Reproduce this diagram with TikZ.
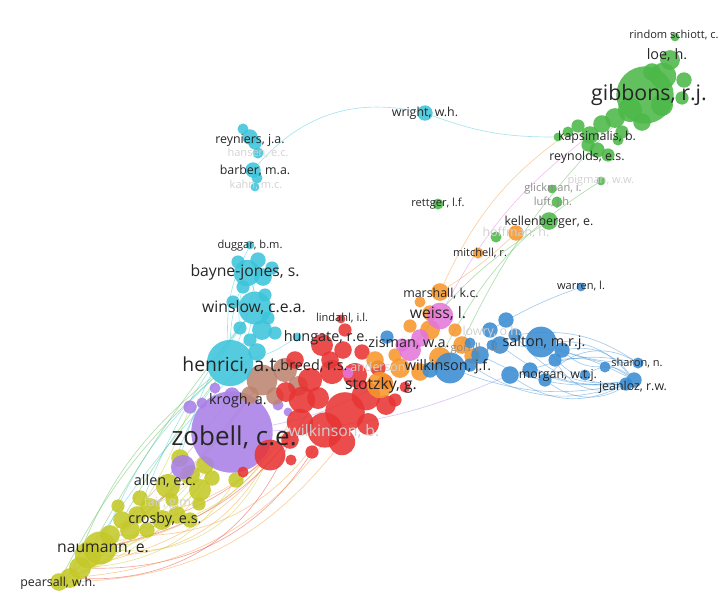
\documentclass[tikz,border=0pt]{standalone}
\usepackage{fontspec}
\setmainfont{Open Sans}
\usepackage{tikz}
\usetikzlibrary{backgrounds}

\definecolor{vgreen}{RGB}{76,184,72}
\definecolor{vcyan}{RGB}{60,196,218}
\definecolor{vred}{RGB}{232,52,52}
\definecolor{vpurple}{RGB}{170,128,230}
\definecolor{vyellow}{RGB}{196,200,40}
\definecolor{vorange}{RGB}{246,150,44}
\definecolor{vblue}{RGB}{58,140,210}
\definecolor{vpink}{RGB}{228,118,218}
\definecolor{vbrown}{RGB}{188,132,112}

\newcommand{\szxl}{\fontsize{19.5}{20}\selectfont}
\newcommand{\szl}{\fontsize{16}{16}\selectfont}
\newcommand{\szh}{\fontsize{14.5}{15}\selectfont}
\newcommand{\szm}{\fontsize{11.8}{12}\selectfont}
\newcommand{\szn}{\fontsize{10.8}{11}\selectfont}
\newcommand{\szs}{\fontsize{9.3}{10}\selectfont}
\newcommand{\szxs}{\fontsize{8.3}{9}\selectfont}

\begin{document}
\begin{tikzpicture}[x=0.75pt,y=-0.75pt]
  \tikzstyle{bub}=[circle,draw=none,inner sep=0pt,fill opacity=0.88]
  \tikzstyle{lab}=[inner sep=0pt,text=black!85]
  \tikzstyle{mid}=[inner sep=0pt,text=black!45]
  \tikzstyle{dim}=[inner sep=0pt,text=black!18]
  \tikzstyle{link}=[line width=0.5pt,draw opacity=0.45]
  \useasboundingbox (0,0) rectangle (726,604);

  % yellow
  \foreach \n/\x/\y/\r in {1/236/480/7, 2/205/465/8, 3/180/458/8, 4/190/475/9, 5/168/486/11,
      6/200/490/10, 7/199/504/6, 8/150/508/9, 9/137/515/8, 10/130/530/9, 11/162/520/9,
      12/177/515/8, 13/122/520/8, 14/100/548/15, 15/88/555/12, 16/80/568/10, 17/70/578/9,
      18/59/582/8, 19/147/530/7, 20/110/535/9, 21/212/478/7, 22/140/498/7, 23/190/520/7,
      24/118/506/6, 25/172/500/6}
    \node[bub,fill=vyellow,minimum size=1.65pt*\r] (y\n) at (\x,\y) {};

  % purple
  \foreach \n/\x/\y/\r in {1/232/432/37, 2/183/467/11, 3/190/407/6, 4/202/403/5, 5/278/405/5,
      6/232/395/7, 7/215/388/5, 8/288/412/4}
    \node[bub,fill=vpurple,minimum size=1.65pt*\r] (p\n) at (\x,\y) {};

  % brown
  \foreach \n/\x/\y/\r in {1/262/380/14, 2/285/370/11, 3/250/395/8, 4/298/386/9, 5/275/396/8}
    \node[bub,fill=vbrown,minimum size=1.65pt*\r] (b\n) at (\x,\y) {};

  % red
  \foreach \n/\x/\y/\r in {1/345/412/18, 2/325/430/16, 3/366/396/13, 4/302/400/12, 5/355/375/11,
      6/332/372/11, 7/385/382/7, 8/310/380/11, 9/295/360/8, 10/270/455/14, 11/291/460/5,
      12/368/424/10, 13/386/405/9, 14/322/345/10, 15/343/350/8, 16/341/319/4, 17/405/387/5,
      18/342/442/12, 19/300/422/12, 20/318/398/10, 21/362/352/7, 22/243/472/5, 23/330/360/8,
      24/395/400/6, 25/286/392/9, 26/290/440/8, 27/378/368/7, 28/345/330/6, 29/312/452/6}
    \node[bub,fill=vred,minimum size=1.65pt*\r] (r\n) at (\x,\y) {};

  % cyan
  \foreach \n/\x/\y/\r in {1/425/113/7, 2/243/129/5, 3/250/137/7, 4/255/143/6, 5/258/153/5,
      6/253/170/7, 7/257/178/5, 8/255/187/4, 9/250/245/4, 10/258/260/7, 11/247/273/12,
      12/263/277/8, 13/272/268/6, 14/243/287/6, 15/255/308/15, 16/233/302/6, 17/268/318/6,
      18/262/330/9, 19/240/328/6, 20/275/333/6, 21/297/337/4, 22/230/363/21, 23/257/352/8,
      24/250/340/6, 25/238/262/6, 26/265/295/6}
    \node[bub,fill=vcyan,minimum size=1.65pt*\r] (c\n) at (\x,\y) {};

  % orange
  \foreach \n/\x/\y/\r in {1/440/292/8, 2/478/253/5, 3/516/233/7, 4/380/385/12, 5/440/358/10,
      6/420/372/8, 7/400/368/9, 8/375/360/8, 9/430/330/9, 10/462/345/8, 11/472/356/7,
      12/410/326/6, 13/395/355/6, 14/420/302/5, 15/430/313/7, 16/455/330/6}
    \node[bub,fill=vorange,minimum size=1.65pt*\r] (o\n) at (\x,\y) {};

  % pink
  \foreach \n/\x/\y/\r in {1/440/316/12, 2/410/350/10, 3/420/338/8, 4/348/373/5, 5/402/345/6}
    \node[bub,fill=vpink,minimum size=1.65pt*\r] (k\n) at (\x,\y) {};

  % blue
  \foreach \n/\x/\y/\r in {1/541/342/14, 2/506/320/7, 3/490/330/7, 4/500/345/8, 5/480/355/8,
      6/450/368/14, 7/510/375/8, 8/530/370/7, 9/555/360/6, 10/562/350/7, 11/605/367/5,
      12/626/384/6, 13/634/380/7, 14/638/363/5, 15/545/380/6, 16/585/375/5, 17/581/287/4,
      18/387/337/6, 19/470/365/6, 20/492/345/5, 21/515/335/6, 22/470/343/5, 23/430/370/7}
    \node[bub,fill=vblue,minimum size=1.65pt*\r] (u\n) at (\x,\y) {};

  % green
  \foreach \n/\x/\y/\r in {1/645/95/26, 2/670/60/9, 3/675/37/4, 4/663/76/12, 5/684/80/7,
      6/630/110/11, 7/615/118/9, 8/602/124/8, 9/590/135/8, 10/578/126/6, 11/568/132/5,
      12/558/137/4, 13/597/150/7, 14/608/155/6, 15/588/145/6, 16/601/181/4, 17/552/189/4,
      18/557/202/5, 19/549/221/8, 20/496/237/5, 21/438/204/5, 22/642/122/8, 23/662/105/10,
      24/622/132/6, 25/682/98/6, 26/652/72/8, 27/618/140/5}
    \node[bub,fill=vgreen,minimum size=1.65pt*\r] (g\n) at (\x,\y) {};

  % links
  \begin{scope}[on background layer]
    \foreach \a/\b/\c/\t in {y18/p1/vyellow/-15, y18/c22/vgreen/10, y14/p1/vyellow/-20,
        y14/c22/vcyan/12, y14/r4/vorange/-25, y15/r10/vorange/-30, y16/r2/vred/-30,
        y17/r1/vorange/-25, y16/p1/vyellow/-10, y13/r19/vorange/-20, y13/p1/vbrown/-10,
        y10/b1/vbrown/-5, y20/p6/vbrown/-5, y8/p1/vyellow/-10, y11/r10/vred/-10,
        y9/c15/vcyan/8, y5/c22/vcyan/10, y3/c15/vcyan/10, y17/c22/vgreen/15, y18/r18/vorange/-25,
        y15/p1/vyellow/-25, y16/r19/vorange/-20, y17/r26/vred/-35, y14/r10/vyellow/-35,
        y15/b1/vbrown/-10, y18/b3/vbrown/-8, y16/c15/vgreen/5, y20/r2/vorange/-28,
        y17/p1/vyellow/-18, y14/r20/vred/-22, y15/c23/vcyan/6, y13/c22/vgreen/4,
        y10/r10/vyellow/-20, y9/p3/vyellow/-5, y18/y5/vyellow/-20, y16/y1/vyellow/-25,
        c6/c1/vcyan/30, c1/g12/vcyan/-10, c22/c11/vcyan/10, c22/c15/vcyan/-10, c22/c9/vcyan/15,
        c18/c11/vcyan/-8, c22/c21/vcyan/-10, c22/c10/vcyan/-6, c19/c14/vcyan/10,
        g10/o1/vorange/-15, g19/k2/vgreen/-10, g16/o5/vgreen/-15, g1/u6/vgreen/-10,
        g9/k1/vpink/-12, o3/o1/vorange/5, u17/u3/vblue/-5, u7/p1/vpurple/10, o4/p1/vpurple/8,
        u1/u13/vblue/25, u1/u12/vblue/-25, u9/u13/vblue/20, u7/u12/vblue/-30, u8/u14/vblue/15,
        u4/u12/vblue/-20, u16/u13/vblue/35, u10/u11/vblue/-20, u6/u12/vblue/-15,
        u15/u13/vblue/-35, u21/u14/vblue/20, u5/u13/vblue/-18, u1/u14/vblue/-10,
        u9/u12/vblue/-40, u10/u13/vblue/30, u8/u12/vblue/-12, u4/u13/vblue/12,
        u19/u12/vblue/-25, u21/u13/vblue/-30, u15/u14/vblue/40}
      \draw[link,draw=\c] (\a) to[bend left=\t] (\b);
  \end{scope}

  % labels
  \node[lab,font=\szxl] (l-zobell) at (234,437) {zobell, c.e.};
  \node[lab,font=\szl] (l-gibbons) at (649,95) {gibbons, r.j.};
  \node[lab,font=\szh] (l-henrici) at (232,365) {henrici, a.t.};
  \node[lab,font=\szm] (l-bayne) at (245,272) {bayne-jones, s.};
  \node[lab,font=\szm] (l-winslow) at (254,308) {winslow, c.e.a.};
  \node[lab,font=\szm] (l-weiss) at (438,314) {weiss, l.};
  \node[lab,font=\szm] (l-stotzky) at (381,385) {stotzky, g.};
  \node[lab,font=\szm] (l-naumann) at (103,549) {naumann, e.};
  \node[lab,font=\szn] (l-salton) at (544,343) {salton, m.r.j.};
  \node[lab,font=\szn] (l-allen) at (165,481) {allen, e.c.};
  \node[lab,font=\szn] (l-crosby) at (165,520) {crosby, e.s.};
  \node[lab,font=\szn] (l-zisman) at (409,343) {zisman, w.a.};
  \node[lab,font=\szn] (l-wilkjf) at (448,367) {wilkinson, j.f.};
  \node[lab,font=\szn] (l-loe) at (667,55) {loe, h.};
  \node[lab,font=\szn] (l-hungate) at (326,338) {hungate, r.e.};
  \node[lab,font=\szn] (l-breed) at (314,366) {breed, r.s.};
  \node[lab,font=\szn] (l-krogh) at (238,401) {krogh, a.};
  \node[lab,font=\szs] (l-kellen) at (549,222) {kellenberger, e.};
  \node[lab,font=\szs] (l-marshall) at (441,294) {marshall, k.c.};
  \node[lab,font=\szs] (l-wright) at (425,113) {wright, w.h.};
  \node[lab,font=\szs] (l-kapsi) at (597,137) {kapsimalis, b.};
  \node[lab,font=\szs] (l-reynolds) at (587,157) {reynolds, e.s.};
  \node[lab,font=\szs] (l-morgan) at (558,375) {morgan, w.t.j.};
  \node[lab,font=\szs] (l-jeanloz) at (633,387) {jeanloz, r.w.};
  \node[lab,font=\szs] (l-pearsall) at (58,583) {pearsall, w.h.};
  \node[lab,font=\szs] (l-reyniers) at (250,140) {reyniers, j.a.};
  \node[lab,font=\szs] (l-barber) at (255,171) {barber, m.a.};
  \node[lab,font=\szxs] (l-rindom) at (674,35) {rindom schiott, c.};
  \node[lab,font=\szxs] (l-rettger) at (438,204) {rettger, l.f.};
  \node[lab,font=\szxs] (l-mitchell) at (480,253) {mitchell, r.};
  \node[lab,font=\szxs] (l-duggar) at (250,246) {duggar, b.m.};
  \node[lab,font=\szxs] (l-lindahl) at (342,318) {lindahl, i.l.};
  \node[lab,font=\szxs] (l-warren) at (581,286) {warren, l.};
  \node[lab,font=\szxs] (l-sharon) at (637,363) {sharon, n.};
  \node[mid,font=\szxs] (l-glickman) at (553,189) {glickman, i.};
  \node[mid,font=\szxs] (l-luft) at (553,203) {luft, j.h.};
  \node[mid,font=\szxs] (l-gorrill) at (477,349) {gorrill, r.h.};
  \node[dim,font=\szxs] (l-pigman) at (601,181) {pigman, w.w.};
  \node[dim,font=\szxs] (l-hansen) at (258,153) {hansen, e.c.};
  \node[dim,font=\szxs] (l-kahn) at (256,185) {kahn, m.c.};
  \node[dim,font=\szs] (l-hoffman) at (516,233) {hoffman, h.};
  \node[dim,font=\szs] (l-lowry) at (492,332) {lowry, o.h.};
  \node[dim,font=\szs] (l-anderson) at (378,367) {anderson};
  \node[dim,font=\szs] (l-fair) at (169,503) {fair, g.m.};
  \node[dim,font=\szm] (l-wilkb) at (334,432) {wilkinson, b.};
\end{tikzpicture}
\end{document}
